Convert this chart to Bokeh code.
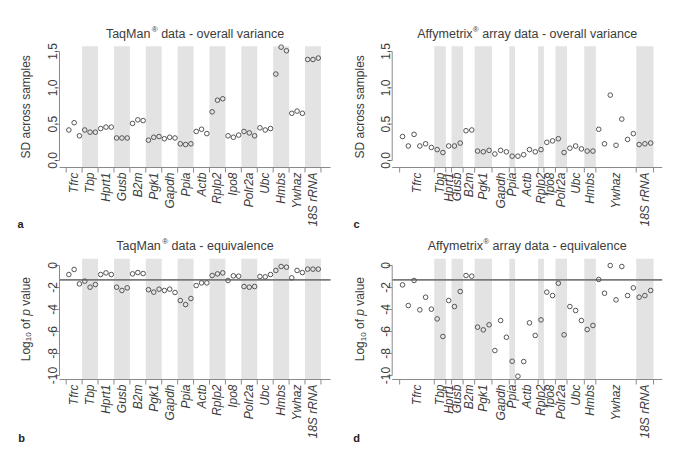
import numpy as np
from bokeh.plotting import figure
from bokeh.models import Range1d
from bokeh.core.properties import value
from bokeh.layouts import column, row
from bokeh.embed import file_html
from bokeh.resources import INLINE

# ---------------- data ----------------
genes = ["Tfrc", "Tbp", "Hprt1", "Gusb", "B2m", "Pgk1", "Gapdh", "Ppia", "Actb",
         "Rplp2", "Ipo8", "Polr2a", "Ubc", "Hmbs", "Ywhaz", "18S rRNA"]

# samples per gene (TaqMan) and probe sets per gene (Affymetrix)
taq_n = [3, 3, 3, 3, 3, 3, 3, 3, 3, 3, 3, 3, 3, 3, 3, 3]
affy_n = [6, 2, 1, 2, 2, 3, 3, 1, 4, 1, 2, 2, 3, 2, 7, 3]

taq_sd = [0.42, 0.52, 0.34, 0.42, 0.39, 0.39, 0.44, 0.46, 0.46, 0.31, 0.31, 0.31,
          0.51, 0.56, 0.55, 0.28, 0.32, 0.33, 0.30, 0.32, 0.31, 0.23, 0.22, 0.23,
          0.40, 0.43, 0.37, 0.67, 0.83, 0.85, 0.34, 0.32, 0.35, 0.40, 0.38, 0.34,
          0.45, 0.42, 0.44, 1.19, 1.56, 1.51, 0.65, 0.68, 0.65, 1.39, 1.39, 1.41]

taq_logp = [-0.82, -0.36, -1.67, -1.42, -1.97, -1.73, -0.82, -0.67, -0.82,
            -1.97, -2.27, -2.03, -0.76, -0.64, -0.73, -2.20, -2.42, -2.15,
            -2.27, -2.15, -2.45, -3.18, -3.55, -3.00, -1.82, -1.58, -1.58,
            -0.91, -0.76, -0.67, -1.36, -0.94, -0.97, -1.91, -1.97, -1.91,
            -1.00, -1.03, -0.82, -0.45, -0.09, -0.15, -1.12, -0.45, -0.64,
            -0.33, -0.33, -0.33]

affy_sd = [0.33, 0.20, 0.36, 0.20, 0.23, 0.18, 0.15, 0.11, 0.20, 0.20, 0.24,
           0.41, 0.42, 0.13, 0.12, 0.14, 0.09, 0.14, 0.12, 0.06, 0.06, 0.08,
           0.15, 0.12, 0.15, 0.25, 0.27, 0.30, 0.11, 0.17, 0.20, 0.16, 0.13,
           0.13, 0.43, 0.23, 0.90, 0.21, 0.57, 0.29, 0.37, 0.22, 0.23, 0.24]

affy_logp = [-1.76, -3.64, -1.36, -4.03, -2.88, -3.97, -4.85, -6.45, -3.18,
             -3.73, -2.36, -0.91, -0.97, -5.60, -5.85, -5.39, -7.73, -5.00,
             -6.52, -8.70, -10.06, -8.73, -5.21, -6.36, -4.94, -2.42, -2.73,
             -1.61, -6.30, -3.73, -4.09, -5.00, -5.82, -5.45, -1.27, -2.52,
             0.00, -3.12, -0.09, -2.73, -2.03, -2.88, -2.73, -2.27]

sd_ticks = [0.0, 0.5, 1.0, 1.5]
sd_tick_labels = ["0.0", "0.5", "1.0", "1.5"]
lp_ticks = [-10, -8, -6, -4, -2, 0]
lp_tick_labels = ["-10", "-8", "-6", "-4", "-2", "0"]
threshold = np.log10(0.05)

# ---------------- style ----------------
FONT = "Liberation Sans"
TXT = "#3c3c3c"
AX = "#8a8a8a"
BAND = "#e3e3e3"
PT = "#555555"

# Arial / Liberation Sans advance widths (per 1000 em) used to place text pieces
ADV = {" ": 278, "-": 333, "A": 667, "M": 833, "T": 611, "L": 556, "S": 667,
       "D": 722, "a": 556, "c": 500, "d": 556, "e": 556, "f": 278, "g": 556,
       "i": 222, "l": 222, "m": 833, "n": 556, "o": 556, "p": 556, "q": 556,
       "r": 333, "s": 500, "t": 278, "u": 556, "v": 500, "x": 500, "y": 500,
       "\u00ae": 737}


def tw(s, size):
    return sum(ADV.get(ch, 556) for ch in s) * size / 1000.0


def lead_width(s, size):
    return tw(s[: len(s) - len(s.lstrip())], size)


def make_panel(title_parts, values, sizes, xr, yr, yticks, ytlabels, size, box,
               title_base, letter, letter_pos, ylabel_parts, ylab_off):
    W, H = size
    L, R, T, B = box                      # plot region in figure pixels
    sx = (R - L) / (xr[1] - xr[0])        # px per data unit
    sy = (B - T) / (yr[1] - yr[0])
    fx0, fx1 = xr[0] - L / sx, xr[1] + (W - R) / sx
    fy1, fy0 = yr[1] + T / sy, yr[0] - (H - B) / sy

    def X(px):
        return fx0 + px / sx

    def Y(py):
        return fy1 - py / sy

    n = int(sum(sizes))
    xs = np.arange(1, n + 1)
    edges = np.concatenate([[0], np.cumsum(sizes)]) + 0.5
    centers = (edges[:-1] + edges[1:]) / 2.0

    p = figure(width=W, height=H, x_range=Range1d(fx0, fx1),
               y_range=Range1d(fy0, fy1), x_axis_type=None, y_axis_type=None,
               min_border=0, output_backend="svg", toolbar_location=None)
    p.outline_line_color = None
    p.background_fill_color = "white"
    p.border_fill_color = "white"

    def txt(x, y, text, fsize=12, style="normal", angle=0.0, align="left",
            baseline="middle", color=TXT):
        p.text(x=list(x), y=list(y), text=list(text), angle=angle,
               text_font=value(FONT), text_font_size=value(f"{fsize}px"),
               text_font_style=value(style), text_align=value(align),
               text_baseline=value(baseline), text_color=color)

    # alternating gene bands
    gi = list(range(1, len(sizes), 2))
    p.quad(left=[edges[i] for i in gi], right=[edges[i + 1] for i in gi],
           bottom=yr[0], top=yr[1], fill_color=BAND, line_color=None)

    # equivalence threshold (log10 of 0.05)
    if min(yticks) < 0:
        p.segment(x0=[xr[0]], x1=[xr[1]], y0=[threshold], y1=[threshold],
                  line_color="#7a7a7a", line_width=1.6)

    # points
    p.scatter(xs, values, marker="circle", size=4.6, fill_color=None,
              line_color=PT, line_width=1)

    # x axis: line, ticks at gene boundaries, gene names at centres
    p.segment(x0=[xr[0]], x1=[xr[1]], y0=[yr[0]], y1=[yr[0]],
              line_color=AX, line_width=1)
    p.segment(x0=list(edges), x1=list(edges), y0=[yr[0]] * len(edges),
              y1=[yr[0] - 5 / sy] * len(edges), line_color=AX, line_width=1)
    txt(centers, [yr[0] - 5 / sy] * len(centers), genes, style="italic",
        angle=np.pi / 2, align="right", baseline="middle")

    # y axis
    p.segment(x0=[xr[0]], x1=[xr[0]], y0=[min(yticks)], y1=[max(yticks)],
              line_color=AX, line_width=1)
    p.segment(x0=[xr[0] - 5 / sx] * len(yticks), x1=[xr[0]] * len(yticks),
              y0=list(yticks), y1=list(yticks), line_color=AX, line_width=1)
    txt([xr[0] - 7 / sx] * len(yticks), yticks, ytlabels, angle=np.pi / 2,
        align="center", baseline="alphabetic")

    # y axis title (pieces drawn bottom-to-top)
    lens = [tw(t, fs) for t, fs, st, dx in ylabel_parts]
    pos = (T + B) / 2.0 + sum(lens) / 2.0
    for (text, fs, style, dx), ln in zip(ylabel_parts, lens):
        start = pos - lead_width(text, fs)
        txt([X(L - ylab_off + dx)], [Y(start)], [text.strip()], fsize=fs,
            style=style, angle=np.pi / 2, align="left", baseline="middle")
        pos -= ln

    # title (with small raised registered sign)
    lens = [tw(t, fs) for t, fs, rise in title_parts]
    pos = (L + R) / 2.0 - sum(lens) / 2.0
    for (text, fs, rise), ln in zip(title_parts, lens):
        txt([X(pos + lead_width(text, fs))], [Y(title_base - rise)],
            [text.strip()], fsize=fs, align="left", baseline="alphabetic")
        pos += ln

    # panel letter
    txt([X(letter_pos[0])], [Y(letter_pos[1])], [letter], fsize=11,
        style="bold", align="center", baseline="middle", color="#222222")
    return p


R_SIGN = ("\u00ae", 8, 4.5)
sd_parts = [("SD across samples", 12, "normal", 0)]
log_parts = [("Log", 12, "normal", 0), ("10", 8, "normal", 3),
             (" of ", 12, "normal", 0), ("p", 12, "italic", 0),
             (" value", 12, "normal", 0)]

pa = make_panel([("TaqMan", 12.5, 0), R_SIGN, (" data - overall variance", 12.5, 0)],
                taq_sd, taq_n, (-0.76, 50.3), (-0.096, 1.573), sd_ticks,
                sd_tick_labels, (340, 231), (59, 330, 45.7, 167), 33,
                "a", (20, 223), sd_parts, 34)
pc = make_panel([("Affymetrix", 12.5, 0), R_SIGN,
                 (" array data - overall variance", 12.5, 0)],
                affy_sd, affy_n, (-0.79, 46.0), (-0.096, 1.573), sd_ticks,
                sd_tick_labels, (339, 231), (51.7, 321.7, 45.7, 167), 33,
                "c", (16, 223), sd_parts, 32)
pb = make_panel([("TaqMan", 12.5, 0), R_SIGN, (" data - equivalence", 12.5, 0)],
                taq_logp, taq_n, (-0.76, 50.3), (-10.36, 0.61), lp_ticks,
                lp_tick_labels, (340, 231), (59, 330, 27.3, 148), 14,
                "b", (21, 206), log_parts, 34)
pd_ = make_panel([("Affymetrix", 12.5, 0), R_SIGN,
                  (" array data - equivalence", 12.5, 0)],
                 affy_logp, affy_n, (-0.79, 46.0), (-10.36, 0.61), lp_ticks,
                 lp_tick_labels, (339, 231), (51.7, 321.7, 27.3, 148), 14,
                 "d", (16, 206), log_parts, 32)

layout = column(row(pa, pc), row(pb, pd_))
open("out.html", "w").write(file_html(layout, INLINE, "Reference gene variability"))
